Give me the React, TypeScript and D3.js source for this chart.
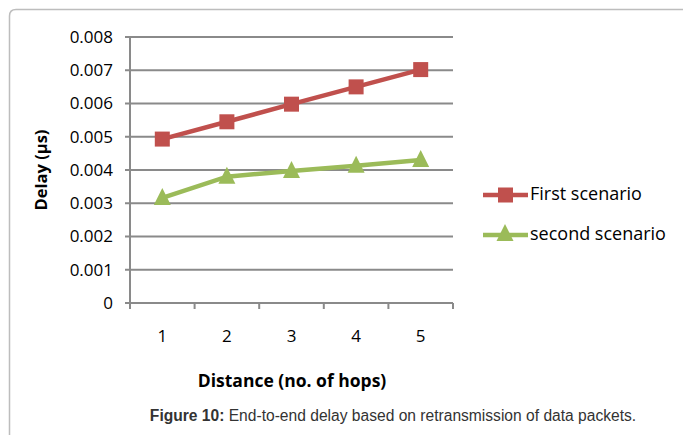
import React from "react";
import * as d3 from "d3";

const categories = ["1", "2", "3", "4", "5"];
const firstScenario = [0.00493, 0.00545, 0.00598, 0.0065, 0.00702];
const secondScenario = [0.00316, 0.0038, 0.00397, 0.00413, 0.0043];
const yTicks = [0, 0.001, 0.002, 0.003, 0.004, 0.005, 0.006, 0.007, 0.008];
const seriesNames = ["First scenario", "second scenario"];

const W = 683, H = 435;
const left = 130, right = 453, top = 37, bottom = 303;

const triPath = (cx: number, cy: number) => {
  const p = d3.path();
  p.moveTo(cx, cy - 10);
  p.lineTo(cx + 8.5, cy + 7);
  p.lineTo(cx - 8.5, cy + 7);
  p.closePath();
  return p.toString();
};

export default function App() {
  const x = d3.scaleBand<string>().domain(categories).range([left, right]).padding(0);
  const y = d3.scaleLinear().domain([0, 0.008]).range([bottom, top]);
  const cx = (i: number) => x(categories[i])! + x.bandwidth() / 2;
  const line = d3.line<number>().x((_, i) => cx(i)).y((d) => y(d));
  const red = "#C0504D", green = "#9BBB59", grid = "#8a8a8a";
  const font = "'Open Sans', sans-serif";
  const xEdges = [...categories.map((c) => x(c)!), right];
  return (
    <svg width={W} height={H} style={{ position: "absolute", left: 0, top: 0, background: "#fff" }}>
      <path d={`M9.5,${H + 10} L9.5,16 Q9.5,9.5 16,9.5 L${W + 10},9.5`} fill="none" stroke="#bdbdbd" strokeWidth={1.5} />
      {yTicks.map((t) => (
        <g key={t}>
          <line x1={left - 5} x2={right} y1={y(t)} y2={y(t)} stroke={grid} strokeWidth={2} />
          <text x={113} y={y(t)} dy="0.35em" textAnchor="end" fontFamily={font} fontSize={17} fill="#000">
            {t === 0 ? "0" : t.toFixed(3)}
          </text>
        </g>
      ))}
      <line x1={left} x2={left} y1={top} y2={bottom + 5} stroke={grid} strokeWidth={2} />
      {xEdges.map((e, i) => (
        <line key={i} x1={e} x2={e} y1={bottom} y2={bottom + 6} stroke={grid} strokeWidth={2} />
      ))}
      {categories.map((c, i) => (
        <text key={c} x={cx(i)} y={336} dy="0.35em" textAnchor="middle" fontFamily={font} fontSize={17}>
          {c}
        </text>
      ))}
      <path d={line(firstScenario)!} fill="none" stroke={red} strokeWidth={4.5} />
      <path d={line(secondScenario)!} fill="none" stroke={green} strokeWidth={4.5} />
      {firstScenario.map((v, i) => (
        <rect key={i} x={cx(i) - 7.5} y={y(v) - 7.5} width={15} height={15} fill={red} />
      ))}
      {secondScenario.map((v, i) => (
        <path key={i} d={triPath(cx(i), y(v))} fill={green} />
      ))}
      <text transform="translate(41,170) rotate(-90)" textAnchor="middle" dy="0.35em" fontFamily={font} fontWeight="bold" fontSize={16.5}>
        Delay (µs)
      </text>
      <text x={292} y={381} dy="0.35em" textAnchor="middle" fontFamily={font} fontWeight="bold" fontSize={17.5}>
        Distance (no. of hops)
      </text>
      <g>
        <line x1={483} x2={528} y1={195} y2={195} stroke={red} strokeWidth={4.5} />
        <rect x={498} y={187.5} width={15} height={15} fill={red} />
        <text x={530} y={194} dy="0.35em" fontFamily={font} fontSize={18}>{seriesNames[0]}</text>
        <line x1={483} x2={528} y1={235} y2={235} stroke={green} strokeWidth={4.5} />
        <path d={triPath(505, 234)} fill={green} />
        <text x={530} y={234} dy="0.35em" fontFamily={font} fontSize={18}>{seriesNames[1]}</text>
      </g>
      <text x={393} y={416} dy="0.35em" textAnchor="middle" fontFamily="'Liberation Sans', Arial, sans-serif" fontSize={15.6} fill="#333">
        <tspan fontWeight="bold">Figure 10:</tspan> End-to-end delay based on retransmission of data packets.
      </text>
    </svg>
  );
}
